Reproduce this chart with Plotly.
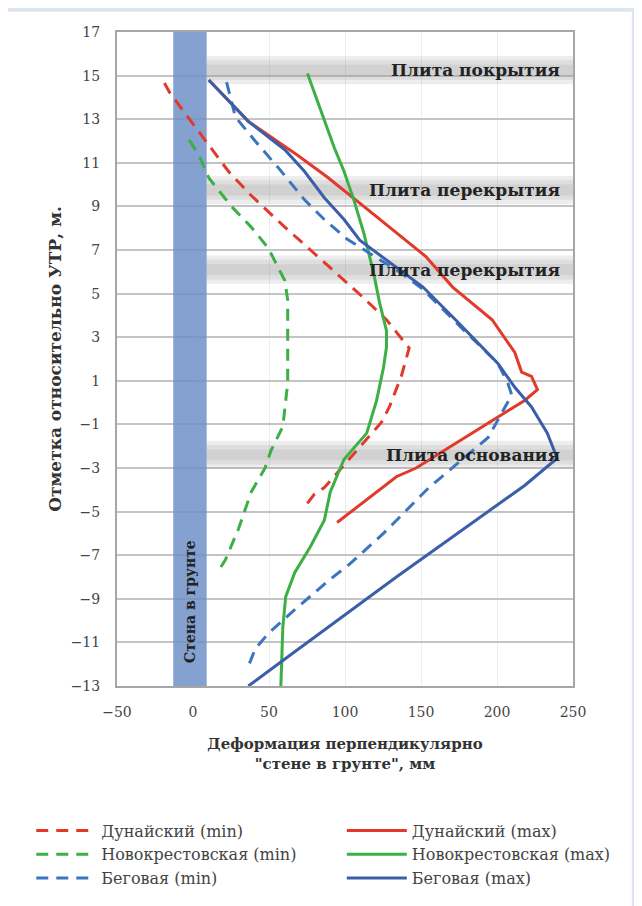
import plotly.graph_objects as go

# ---------------- data ----------------
dun_min_x = [-18.8, -15.6, -4.5, 10.4, 23.4, 38.3, 60.4, 77.3, 94.8, 112.3, 127.3, 142.2, 137.0, 129.2, 124.0, 86.4, 79.9, 72.1]
dun_min_y = [14.66, 14.25, 13.2, 11.8, 10.6, 9.5, 8.05, 7.0, 5.9, 4.8, 3.8, 2.5, 1.2, -0.2, -0.9, -3.9, -4.2, -4.9]

dun_max_x = [10.4, 36.4, 68.8, 88.3, 109.7, 131.8, 153.2, 170.8, 196.8, 211.7, 216.2, 222.7, 226.6, 218.2, 146.8, 133.8, 94.8]
dun_max_y = [14.8, 12.9, 11.35, 10.35, 9.15, 7.9, 6.7, 5.3, 3.8, 2.3, 1.4, 1.2, 0.6, 0.1, -3.0, -3.4, -5.5]

nov_min_x = [-2.6, 3.9, 10.4, 25.3, 38.3, 49.4, 60.4, 62.3, 62.3, 62.3, 59.1, 51.3, 47.4, 38.3, 29.9, 21.4, 16.9]
nov_min_y = [12.05, 11.35, 10.3, 9.0, 8.05, 7.1, 5.6, 4.7, 3.2, 0.9, -1.1, -2.2, -3.0, -4.1, -5.8, -7.2, -7.7]

nov_max_x = [75.3, 86.4, 92.9, 99.4, 105.8, 112.3, 118.8, 122.7, 127.3, 127.3, 125.3, 120.8, 114.3, 99.4, 90.3, 86.4, 77.3, 66.9, 61.0, 59.1, 57.8]
nov_max_y = [15.1, 13.0, 11.7, 10.6, 9.3, 7.8, 5.95, 4.6, 3.3, 2.55, 1.6, 0.1, -1.4, -2.6, -4.1, -5.4, -6.6, -7.8, -8.9, -10.3, -13.0]

beg_min_x = [22.1, 27.9, 40.9, 55.8, 73.4, 86.4, 101.3, 135.7, 151.3, 172.7, 200.6, 207.1, 209.7, 194.2, 177.3, 155.2, 125.3, 103.2, 90.3, 66.9, 49.4, 40.9, 36.4]
beg_min_y = [14.7, 13.1, 12.0, 10.8, 9.3, 8.4, 7.5, 6.0, 5.2, 3.7, 1.8, 0.9, 0.35, -1.6, -2.6, -3.9, -6.0, -7.4, -8.1, -9.5, -10.6, -11.3, -12.1]

beg_max_x = [10.4, 36.4, 60.4, 73.4, 86.4, 99.4, 109.7, 135.7, 151.3, 172.7, 200.6, 211.7, 222.7, 233.1, 239.6, 218.2, 133.8, 57.8, 36.4]
beg_max_y = [14.8, 12.9, 11.6, 10.6, 9.4, 8.4, 7.45, 6.1, 5.3, 3.8, 1.8, 0.7, -0.2, -1.4, -2.55, -3.8, -8.0, -11.9, -13.0]

series_names = ["Дунайский (min)", "Дунайский (max)",
                "Новокрестовская (min)", "Новокрестовская (max)",
                "Беговая (min)", "Беговая (max)"]

slab_labels = ["Плита покрытия", "Плита перекрытия", "Плита перекрытия", "Плита основания"]
slab_levels = [15.25, 9.75, 6.1, -2.4]

wall_x = [-13, 9]
wall_label = "Стена в грунте"

x_ticks = [-50, 0, 50, 100, 150, 200, 250]
y_ticks = list(range(-13, 18, 2))

# ---------------- styles ----------------
RED = "#e3392b"
GREEN = "#3caf45"
BLUE_D = "#3a76c0"
BLUE_S = "#3a5ea9"
SERIF = "DejaVu Serif"
DASH = "12px,8px"

fig = go.Figure()

specs = [
    (dun_min_x, dun_min_y, RED, DASH, "legend"),
    (dun_max_x, dun_max_y, RED, "solid", "legend2"),
    (nov_min_x, nov_min_y, GREEN, DASH, "legend"),
    (nov_max_x, nov_max_y, GREEN, "solid", "legend2"),
    (beg_min_x, beg_min_y, BLUE_D, DASH, "legend"),
    (beg_max_x, beg_max_y, BLUE_S, "solid", "legend2"),
]
for name, (xs, ys, col, dash, lg) in zip(series_names, specs):
    fig.add_trace(go.Scatter(x=xs, y=ys, mode="lines", name=name, legend=lg,
                             line=dict(color=col, width=3, dash=dash)))

shapes = []
# white page panel on light-blue frame
shapes.append(dict(type="rect", xref="paper", yref="paper",
                   x0=-0.239, x1=1.129, y0=-0.345, y1=1.031,
                   fillcolor="white", line_width=0, layer="below"))
# slab bands (soft gradient by stacking)
for lvl in slab_levels:
    for h, op in [(0.65, 0.16), (0.45, 0.16), (0.25, 0.16)]:
        shapes.append(dict(type="rect", xref="x", yref="y",
                           x0=wall_x[1], x1=250, y0=lvl - h, y1=lvl + h,
                           fillcolor=f"rgba(140,140,140,{op})", line_width=0,
                           layer="between"))
# wall band
shapes.append(dict(type="rect", xref="x", yref="y",
                   x0=wall_x[0], x1=wall_x[1], y0=-13, y1=17,
                   fillcolor="rgba(110,145,200,0.85)", line_width=0, layer="between"))
fig.update_layout(shapes=shapes)

ann = []
for lab, lvl in zip(slab_labels, slab_levels):
    ann.append(dict(x=243, y=lvl, xref="x", yref="y", text=f"<b>{lab}</b>",
                    showarrow=False, xanchor="right", yanchor="middle",
                    font=dict(family=SERIF, size=17, color="#222")))
ann.append(dict(x=(wall_x[0] + wall_x[1]) / 2, y=-9.1, xref="x", yref="y",
                text=f"<b>{wall_label}</b>", textangle=-90, showarrow=False,
                font=dict(family=SERIF, size=14, color="#222")))
fig.update_layout(annotations=ann)

leg_common = dict(orientation="v", yanchor="top", xanchor="left",
                  font=dict(family=SERIF, size=16, color="#444"),
                  bgcolor="rgba(0,0,0,0)", itemwidth=60)

fig.update_layout(
    width=634, height=898,
    margin=dict(l=109, r=69, t=24, b=220, autoexpand=False),
    paper_bgcolor="#dce6f1",
    plot_bgcolor="white",
    font=dict(family=SERIF, size=14, color="#333"),
    xaxis=dict(range=[-50, 250], tickvals=x_ticks, showgrid=True,
               gridcolor="#ececec", gridwidth=1, zeroline=False,
               showline=True, linecolor="#a6a6a6", linewidth=2, mirror=True,
               ticks="", ticklabelstandoff=12,
               tickfont=dict(family=SERIF, size=14, color="#444"),
               title=dict(text="<b>Деформация перпендикулярно<br>\"стене в грунте\", мм</b>",
                          font=dict(family=SERIF, size=15, color="#333"), standoff=20)),
    yaxis=dict(range=[-13, 17], tickvals=y_ticks, showgrid=True,
               gridcolor="#c4c4c4", gridwidth=1.5, zeroline=False,
               showline=True, linecolor="#a6a6a6", linewidth=2, mirror=True,
               ticks="", ticklabelstandoff=12,
               tickfont=dict(family=SERIF, size=14, color="#444"),
               title=dict(text="<b>Отметка относительно УТР, м.</b>",
                          font=dict(family=SERIF, size=17, color="#333"), standoff=5)),
    legend=dict(x=-0.188, y=-0.195, **leg_common),
    legend2=dict(x=0.493, y=-0.195, **leg_common),
    showlegend=True,
)

fig.write_html("out.html")
